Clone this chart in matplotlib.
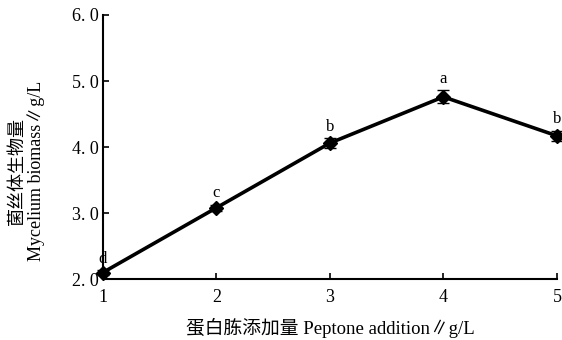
import numpy as np
import matplotlib
matplotlib.use('Agg')
import matplotlib.pyplot as plt

plt.rcParams['font.family'] = ['Liberation Serif', 'Noto Sans CJK SC', 'DejaVu Sans']

# 蛋白胨添加量与菌丝体生物量
peptone = [1, 2, 3, 4, 5]
biomass = [2.10, 3.08, 4.06, 4.76, 4.17]
err = [0.04, 0.05, 0.08, 0.10, 0.08]
letters = ['d', 'c', 'b', 'a', 'b']
yticks = [2.0, 3.0, 4.0, 5.0, 6.0]
ytick_labels = ['2. 0', '3. 0', '4. 0', '5. 0', '6. 0']

fig = plt.figure(figsize=(5.62, 3.40), dpi=100)
ax = fig.add_axes([0.183, 0.179, 0.808, 0.777])

ax.errorbar(peptone, biomass, yerr=err, color='black', lw=2.6,
            marker='D', markersize=7, capsize=4, elinewidth=1, capthick=1,
            clip_on=False, zorder=3)

for x, y, e, s in zip(peptone, biomass, err, letters):
    ax.text(x, y + e + 0.05, s, ha='center', va='bottom', fontsize=12)

ax.set_xlim(1, 5)
ax.set_ylim(2.0, 6.0)
ax.set_xticks(peptone)
ax.set_yticks(yticks)
ax.set_yticklabels(ytick_labels)
ax.tick_params(direction='in', length=4, width=1.2, labelsize=13)
ax.tick_params(axis='x', pad=7)
ax.tick_params(axis='y', pad=3)
for side in ['top', 'right']:
    ax.spines[side].set_visible(False)
for side in ['left', 'bottom']:
    ax.spines[side].set_linewidth(1.5)

ax.set_xlabel('蛋白胨添加量 Peptone addition∥g/L', fontsize=13.5, labelpad=9)
ax.set_ylabel('菌丝体生物量\nMycelium biomass∥g/L', fontsize=13, labelpad=12,
              linespacing=1.05)
ax.yaxis.set_label_coords(-0.128, 0.41)

fig.savefig('out.png', dpi=100)
